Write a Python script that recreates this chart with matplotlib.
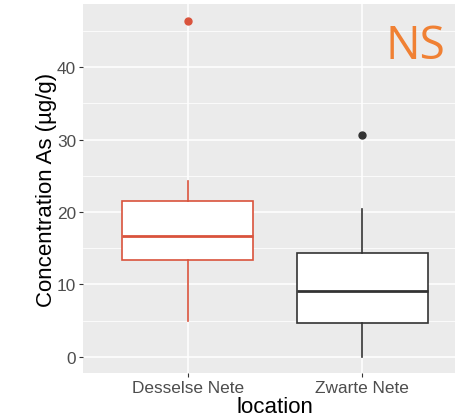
import numpy as np
import matplotlib.pyplot as plt

# ---- data ----
locations = ['Desselse Nete', 'Zwarte Nete']
whisker_low = [5.0, 0.0]
q1 = [13.3, 4.7]
median = [16.7, 9.1]
q3 = [21.5, 14.4]
whisker_high = [24.3, 20.4]
outliers = [[46.4], [30.7]]
box_colors = ['#D9533C', '#333333']

plt.rcParams['font.family'] = ['Liberation Sans', 'DejaVu Sans']

fig = plt.figure(figsize=(4.55, 4.14), dpi=100)
# panel runs past the right edge of the image, as in the reference
ax = fig.add_axes([83 / 455, (414 - 374) / 414, (467 - 83) / 455, (374 - 5) / 414])
ax.set_facecolor('#EBEBEB')

stats = []
for i, loc in enumerate(locations):
    stats.append({'label': loc, 'whislo': whisker_low[i], 'q1': q1[i], 'med': median[i],
                  'q3': q3[i], 'whishi': whisker_high[i], 'fliers': outliers[i]})

for i, st in enumerate(stats):
    c = box_colors[i]
    ax.bxp([st], positions=[i + 1], widths=0.75, patch_artist=True, showcaps=False,
           boxprops=dict(facecolor='white', edgecolor=c, linewidth=1.2),
           medianprops=dict(color=c, linewidth=2.0),
           whiskerprops=dict(color=c, linewidth=1.2),
           flierprops=dict(marker='o', markerfacecolor=c, markeredgecolor=c, markersize=5),
           zorder=3)

ax.set_xlim(0.4, 2.6)
ax.set_ylim(-2.25, 48.75)
ax.set_yticks([0, 10, 20, 30, 40])
ax.set_yticks([5, 15, 25, 35, 45], minor=True)
ax.set_xticks([1, 2])
ax.set_xticklabels(locations)

ax.grid(True, which='major', color='white', linewidth=1.1, zorder=0)
ax.grid(True, which='minor', axis='y', color='white', linewidth=0.55, zorder=0)
ax.set_axisbelow(True)
for s in ax.spines.values():
    s.set_visible(False)

ax.tick_params(axis='both', which='major', length=3, width=0.8, color='#333333',
               labelcolor='#4D4D4D', labelsize=12.4, pad=2)
ax.tick_params(axis='y', which='minor', length=0)

ax.set_ylabel('Concentration As (µg/g)', fontsize=16, color='black')
ax.yaxis.set_label_coords(-0.068, 0.5)
ax.set_xlabel('location', fontsize=16, color='black', labelpad=1)

fig.text(445 / 455, 1 - 47 / 414, 'NS', fontsize=33, color='#F08033',
         family=['Open Sans', 'DejaVu Sans'], ha='right', va='center')

fig.savefig('out.png', dpi=100)
